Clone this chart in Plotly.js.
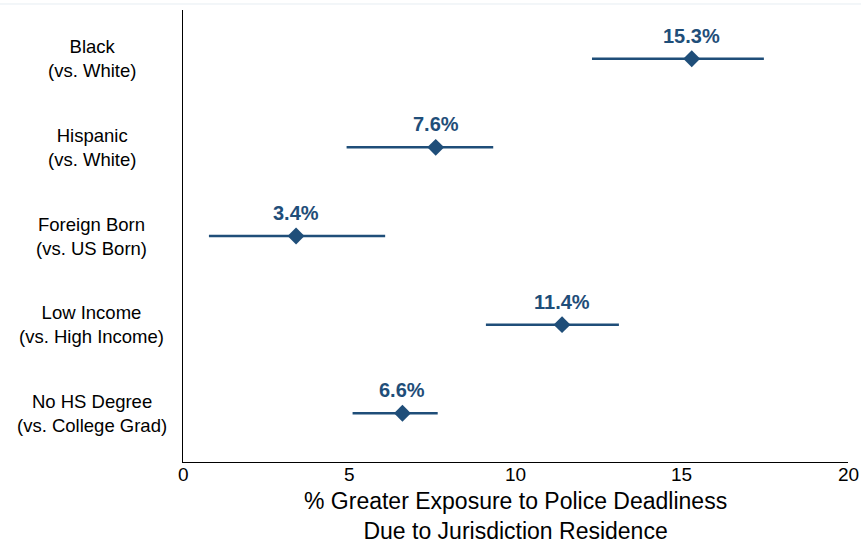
<!DOCTYPE html>
<html>
<head>
<meta charset="utf-8">
<script src="https://cdn.plot.ly/plotly-3.0.1.min.js"></script>
<style>html,body{margin:0;padding:0;background:#fff;}#chart{width:861px;height:543px;}</style>
</head>
<body>
<div id="chart"></div>
<script>
var groupNames = ["Black", "Hispanic", "Foreign Born", "Low Income", "No HS Degree"];
var comparisons = ["(vs. White)", "(vs. White)", "(vs. US Born)", "(vs. High Income)", "(vs. College Grad)"];
var estimates = [15.3, 7.6, 3.4, 11.4, 6.6];
var ciLow = [12.3, 4.92, 0.78, 9.11, 5.1];
var ciHigh = [17.47, 9.33, 6.08, 13.11, 7.66];
var pointLabels = ["15.3%", "7.6%", "3.4%", "11.4%", "6.6%"];
var xTicks = [0, 5, 10, 15, 20];
var xTitleLines = ["% Greater Exposure to Police Deadliness", "Due to Jurisdiction Residence"];

var color = "#1f4e79";
var fam = "Liberation Sans, Arial, sans-serif";
var ypos = groupNames.map(function(c, i){ return i; });

var trace = {
  x: estimates,
  y: ypos,
  type: "scatter",
  mode: "markers",
  marker: {symbol: "diamond", size: 13, color: color},
  error_x: {
    type: "data", symmetric: false,
    array: estimates.map(function(v, i){ return ciHigh[i] - v; }),
    arrayminus: estimates.map(function(v, i){ return v - ciLow[i]; }),
    color: color, thickness: 2.5, width: 0
  },
  hoverinfo: "skip",
  showlegend: false
};

var annotations = [];
estimates.forEach(function(v, i){
  annotations.push({x: v, y: ypos[i], xref: "x", yref: "y", text: pointLabels[i], showarrow: false,
    yshift: 23, font: {family: fam, size: 20, color: color, weight: "bold"}});
  annotations.push({x: -0.137, y: ypos[i], xref: "paper", yref: "y", text: groupNames[i] + "<br>" + comparisons[i],
    showarrow: false, xanchor: "center", yanchor: "middle", align: "center",
    font: {family: fam, size: 18.5, color: "#000"}});
});
xTicks.forEach(function(t){
  annotations.push({x: t, y: 0, xref: "x", yref: "paper", text: String(t), showarrow: false,
    xanchor: "center", yanchor: "middle", yshift: -12, font: {family: fam, size: 19, color: "#000"}});
});
annotations.push({x: 0.5, y: 0, xref: "paper", yref: "paper", text: xTitleLines.join("<br>"), showarrow: false,
  xanchor: "center", yanchor: "top", align: "center", yshift: -24, font: {family: fam, size: 23, color: "#000"}});

var layout = {
  width: 861, height: 543,
  margin: {l: 183, r: 13, t: 10, b: 81},
  paper_bgcolor: "#fff", plot_bgcolor: "#fff",
  font: {family: fam, color: "#000"},
  xaxis: {
    range: [0, 20], tickvals: xTicks,
    showgrid: false, zeroline: false, showline: true, linecolor: "#000", linewidth: 1,
    ticks: "", showticklabels: false
  },
  yaxis: {
    range: [4.55, -0.55], showgrid: false, zeroline: false, showline: true, linecolor: "#000", linewidth: 1,
    showticklabels: false, ticks: ""
  },
  annotations: annotations,
  shapes: [{type: "line", xref: "paper", yref: "paper", x0: -0.3, x1: 1.03, y0: 1.0133, y1: 1.0133,
    line: {color: "#e6edf2", width: 1}}]
};

Plotly.newPlot("chart", [trace], layout, {displayModeBar: false, staticPlot: true});
</script>
</body>
</html>
